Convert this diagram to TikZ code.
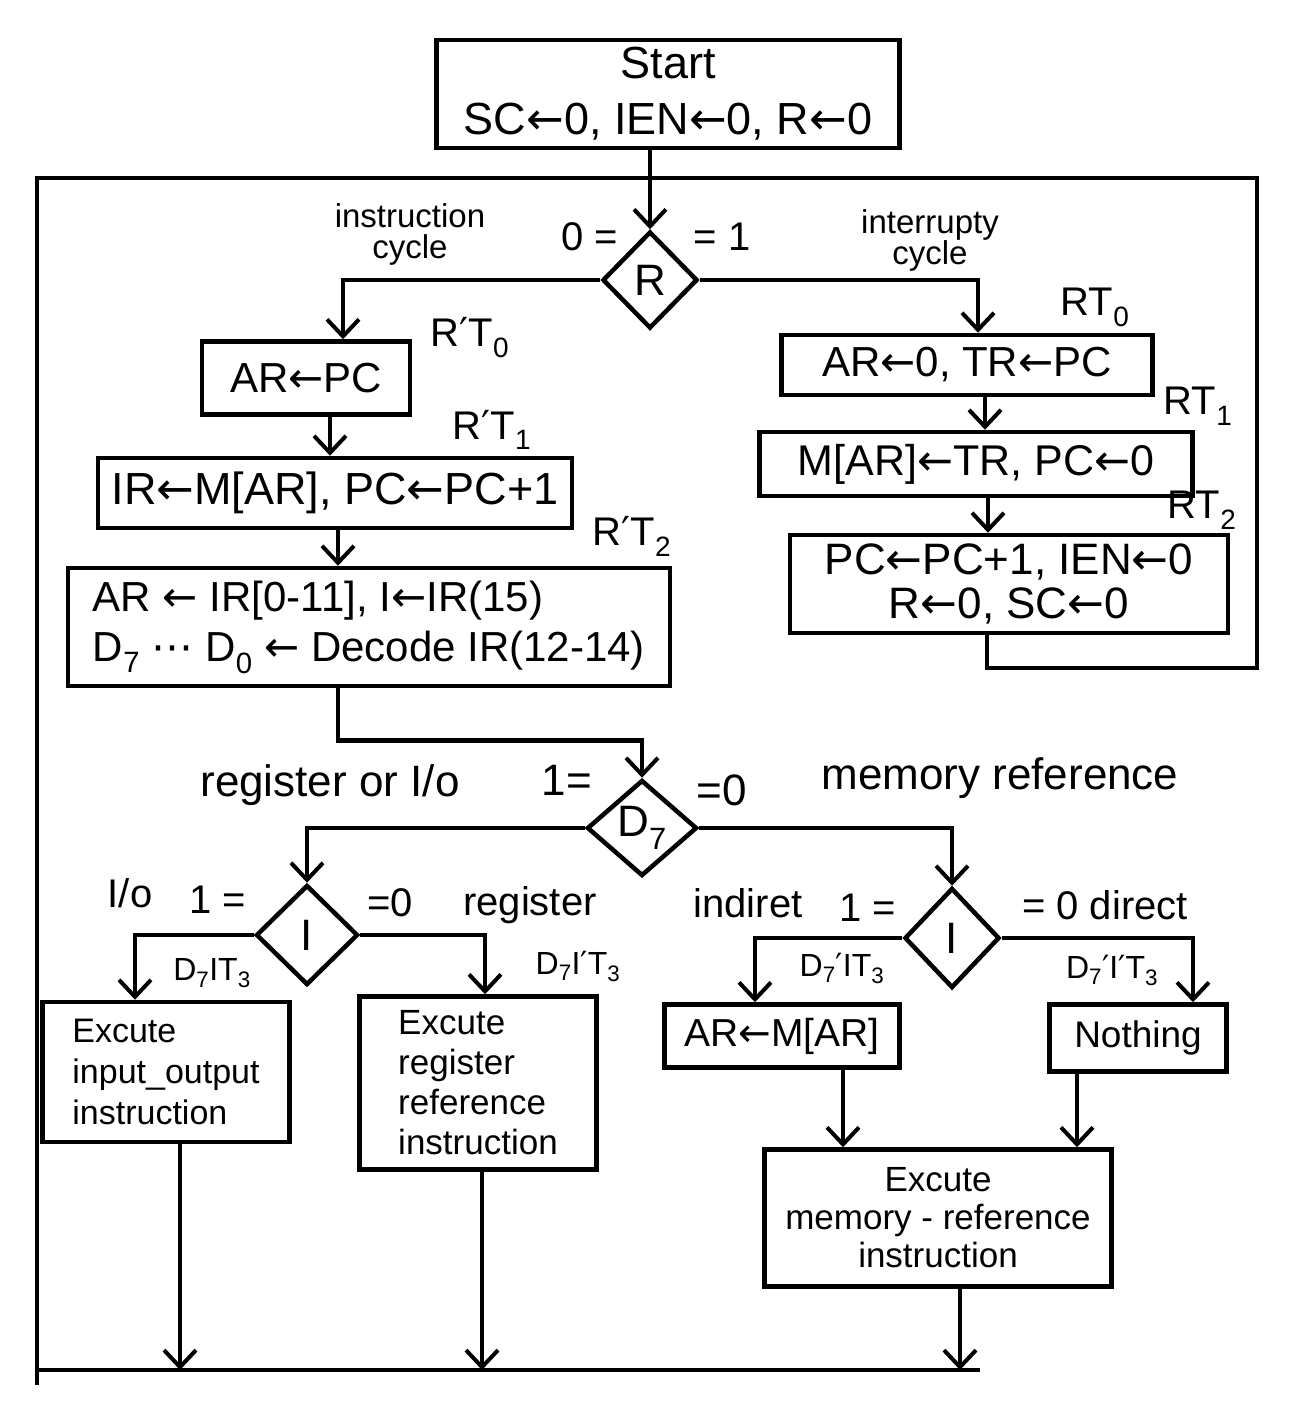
\documentclass[tikz,border=0pt]{standalone}
\usepackage{fontspec}
\setmainfont{Liberation Sans}
\newfontfamily\dv{DejaVu Sans}
\usetikzlibrary{shapes.geometric,arrows.meta,calc}
\newcommand\pr{{\dv ′}}
\newcommand\la{{\dv ←}}
\newcommand\sbs[1]{\textsubscript{#1}}
\begin{document}
\begin{tikzpicture}[x=1pt,y=-1pt,
 ln/.style={line width=4.5pt},
 arr/.style={ln,-{Straight Barb[length=17pt,width=32pt,line width=4pt]}},
 box/.style={draw,ln,inner sep=0pt,align=center},
 dia/.style={draw,ln,diamond,inner sep=0pt,font=\fontsize{44}{48}\selectfont},
 lbs/.style={inner sep=0pt,align=center,font=\fontsize{33}{31}\selectfont},
 lbm/.style={inner sep=0pt,align=center,font=\fontsize{40}{40}\selectfont},
 lbl/.style={inner sep=0pt,align=center,font=\fontsize{44}{44}\selectfont},
 lbc/.style={inner sep=0pt,align=center,font=\fontsize{32}{32}\selectfont},
]
\path[use as bounding box] (0,0) rectangle (1308,1402);

% boxes
\node[box,minimum width=463pt,minimum height=108pt,font=\fontsize{45}{56}\selectfont] (start) at (668,94) {Start\\SC\la0, IEN\la0, R\la0};
\node[box,minimum width=208pt,minimum height=73pt,font=\fontsize{42}{46}\selectfont] (a1) at (306,378) {AR\la PC};
\node[box,minimum width=474pt,minimum height=70pt,font=\fontsize{45}{46}\selectfont] (a2) at (335,493) {IR\la M[AR], PC\la PC+1};
\node[box,minimum width=602pt,minimum height=118pt,align=left,font=\fontsize{42}{50}\selectfont] (a3) at (369,627) {AR \la\ IR[0-11], I\la IR(15)\\D\sbs{7} {\dv ⋯} D\sbs{0} \la\ Decode IR(12-14)};
\node[box,minimum width=371pt,minimum height=60pt,font=\fontsize{42}{46}\selectfont] (b1) at (967,365) {AR\la0, TR\la PC};
\node[box,minimum width=433pt,minimum height=64pt,font=\fontsize{43}{46}\selectfont] (b2) at (976,464) {M[AR]\la TR, PC\la0};
\node[box,minimum width=438pt,minimum height=98pt,font=\fontsize{44}{44}\selectfont] (b3) at (1009,584) {PC\la PC+1, IEN\la0\\R\la0, SC\la0};

\node[box,minimum width=247pt,minimum height=140pt,align=left,font=\fontsize{34}{41}\selectfont] (e1) at (166,1072) {Excute\\input\_output\\instruction};
\node[box,minimum width=237pt,minimum height=173pt,align=left,font=\fontsize{35}{40}\selectfont] (e2) at (478,1083) {Excute\\register\\reference\\instruction};
\node[box,minimum width=235pt,minimum height=63pt,font=\fontsize{39}{44}\selectfont] (m1) at (782,1036) {AR\la M[AR]};
\node[box,minimum width=177pt,minimum height=67pt,font=\fontsize{37}{44}\selectfont] (n1) at (1138,1038) {Nothing};
\node[box,minimum width=347pt,minimum height=137pt,font=\fontsize{35}{38}\selectfont] (e3) at (938,1218) {Excute\\memory - reference\\instruction};

% diamonds
\node[dia,minimum width=95pt,minimum height=97pt] (Rd) at (650,280) {R};
\node[dia,minimum width=110pt,minimum height=96pt] (Dd) at (642,828) {D\sbs{7}};
\node[dia,minimum width=102pt,minimum height=100pt] (I1) at (307,935) {I};
\node[dia,minimum width=95pt,minimum height=100pt] (I2) at (952,938) {I};

% labels
\node[lbs] (l1) at (410,234) {instruction\\cycle};
\node[lbm] (l2) at (590,237) {0 =};
\node[lbm] (l3) at (722,237) {= 1};
\node[lbs] (l4) at (930,240) {interrupty\\cycle};
\node[lbm] (t1) at (470,338) {R\pr T\sbs{0}};
\node[lbm] (t2) at (492,430) {R\pr T\sbs{1}};
\node[lbm] (t3) at (632,536) {R\pr T\sbs{2}};
\node[lbm] (t4) at (1095,307) {RT\sbs{0}};
\node[lbm] (t5) at (1198,406) {RT\sbs{1}};
\node[lbm] (t6) at (1202,510) {RT\sbs{2}};

\node[lbl] (l5) at (330,785) {register or I/o};
\node[lbl] (l6) at (567,780) {1=};
\node[lbl] (l7) at (722,790) {=0};
\node[lbl] (l8) at (1000,778) {memory reference};

\node[lbm] (l9) at (130,893) {I/o};
\node[lbm] (l10) at (218,900) {1 =};
\node[lbm] (l11) at (390,903) {=0};
\node[lbm] (l12) at (530,905) {register};
\node[lbm] (l13) at (748,903) {indiret};
\node[lbm] (l14) at (868,908) {1 =};
\node[lbm] (l15) at (1105,905) {= 0 direct};

\node[lbc] (c1) at (212,973) {D\sbs{7}IT\sbs{3}};
\node[lbc] (c2) at (578,966) {D\sbs{7}I\pr T\sbs{3}};
\node[lbc] (c3) at (842,968) {D\sbs{7}\pr IT\sbs{3}};
\node[lbc] (c4) at (1112,970) {D\sbs{7}\pr I\pr T\sbs{3}};

% loop frame coordinates
\coordinate (tl) at (37,178);
\coordinate (tr) at (1257,178);
\coordinate (br) at (1257,668);
\coordinate (bl) at (37,1385);
\coordinate (bot) at (37,1370);
\coordinate (bote) at (980,1370);

% connectors
\draw[arr] (Rd.north |- start.south) -- (Rd.north);
\draw[arr] (Rd.west) -| ([xshift=37pt]a1.north);
\draw[arr] (Rd.east) -| ([xshift=11pt]b1.north);
\draw[arr] ([xshift=24pt]a1.south) -- ([xshift=24pt]a1.south |- a2.north);
\draw[arr] ([xshift=3pt]a2.south) -- ([xshift=3pt]a2.south |- a3.north);
\draw[arr] ([xshift=18pt]b1.south) -- ([xshift=18pt]b1.south |- b2.north);
\draw[arr] ([xshift=12pt]b2.south) -- ([xshift=12pt]b2.south |- b3.north);
\draw[arr] ([xshift=-31pt]a3.south) -- ++(0,52) -| (Dd.north);
\draw[ln] ([xshift=-22pt]b3.south) |- (br) -- (tr) -- (tl) -- (bl);
\draw[ln] (bot) -- (bote);

\draw[arr] (Dd.west) -| (I1.north);
\draw[arr] (Dd.east) -| (I2.north);
\draw[arr] (I1.west) -| ([xshift=-31pt]e1.north);
\draw[arr] (I1.east) -| ([xshift=7pt]e2.north);
\draw[arr] (I2.west) -| ([xshift=-27pt]m1.north);
\draw[arr] (I2.east) -| ([xshift=55pt]n1.north);
\draw[arr] ([xshift=61pt]m1.south) -- ([xshift=61pt]m1.south |- e3.north);
\draw[arr] ([xshift=-61pt]n1.south) -- ([xshift=-61pt]n1.south |- e3.north);
\draw[arr] ([xshift=14pt]e1.south) -- ([xshift=14pt]e1.south |- bot);
\draw[arr] ([xshift=4pt]e2.south) -- ([xshift=4pt]e2.south |- bot);
\draw[arr] ([xshift=22pt]e3.south) -- ([xshift=22pt]e3.south |- bot);
\end{tikzpicture}
\end{document}
